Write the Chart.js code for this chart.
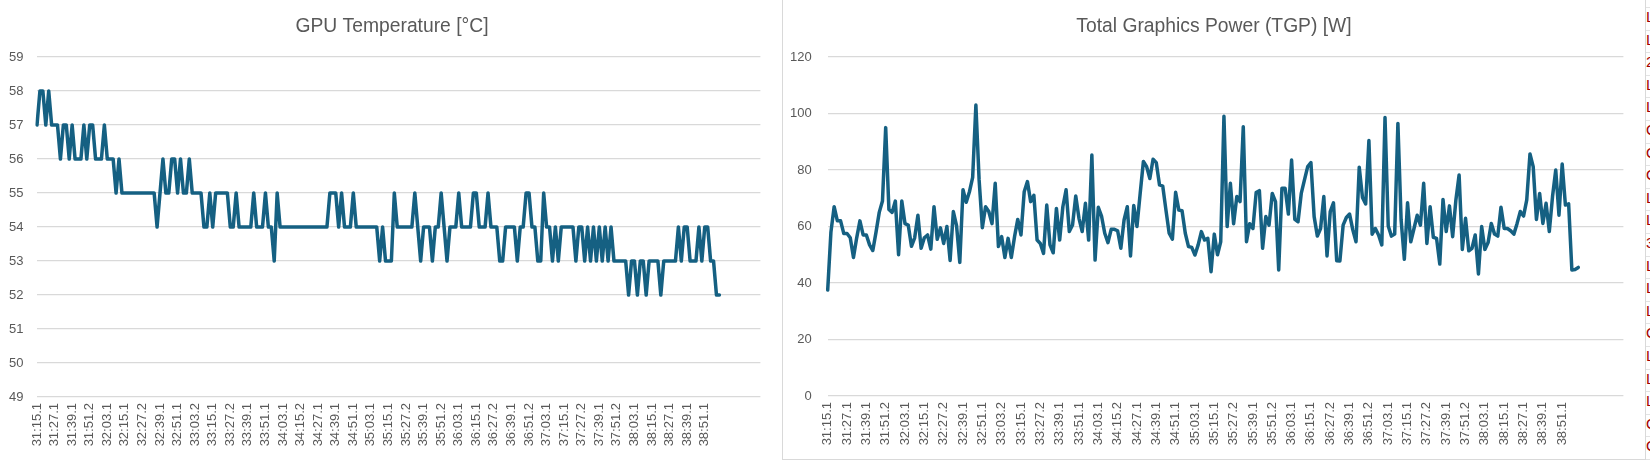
<!DOCTYPE html>
<html>
<head>
<meta charset="utf-8">
<script src="https://cdn.jsdelivr.net/npm/chart.js@4.4.1/dist/chart.umd.min.js"></script>
<style>
  html, body { margin: 0; padding: 0; background: #ffffff; width: 1650px; height: 461px; overflow: hidden; }
  #cLeft { position: absolute; left: 0; top: 0; }
  #cRight { position: absolute; left: 783px; top: 0; }
  .vline { position: absolute; top: 0; width: 1px; background: #d9d9d9; }
  .hline { position: absolute; height: 1px; background: #d9d9d9; }
  #sheet { position: absolute; left: 1646px; top: 0; width: 4px; height: 461px; overflow: hidden; }
  #sheet div { height: 22.6px; line-height: 22.6px; font: 15px 'Liberation Sans', Arial, sans-serif; color: #a40000; border-bottom: 1px solid #e3e3e3; box-sizing: border-box; white-space: nowrap; }
</style>
</head>
<body>
<canvas id="cLeft" width="782" height="461"></canvas>
<canvas id="cRight" width="862" height="461"></canvas>
<div class="vline" style="left:782px;height:460px;"></div>
<div class="vline" style="left:1645px;height:460px;"></div>
<div class="hline" style="left:782px;top:459px;width:864px;"></div>
<div id="sheet">
  <div style="height:8px;line-height:8px;"></div>
  <div>L</div><div>L</div><div>2</div><div>L</div><div>L</div><div>O</div><div>O</div><div>O</div><div>L</div><div>L</div>
  <div>3</div><div>L</div><div>L</div><div>L</div><div>O</div><div>L</div><div>L</div><div>L</div><div>O</div><div>O</div>
</div>
<script>
// ---- data ----
const tickLabels = [
  "31:15.1","31:27.1","31:39.1","31:51.2","32:03.1","32:15.1","32:27.2","32:39.1","32:51.1","33:03.2",
  "33:15.1","33:27.2","33:39.1","33:51.1","34:03.1","34:15.2","34:27.1","34:39.1","34:51.1","35:03.1",
  "35:15.1","35:27.2","35:39.1","35:51.2","36:03.1","36:15.1","36:27.2","36:39.1","36:51.2","37:03.1",
  "37:15.1","37:27.2","37:39.1","37:51.2","38:03.1","38:15.1","38:27.1","38:39.1","38:51.1"
];
const pointsPerLabel = 6;
const categoryCount = 248;

const gpuTemperature = [
  57,58,58,57,58,57,57,57,56,57,
  57,56,57,56,56,56,57,56,57,57,
  56,56,56,57,56,56,56,55,56,55,
  55,55,55,55,55,55,55,55,55,55,
  55,54,55,56,55,55,56,56,55,56,
  55,55,56,55,55,55,55,54,54,55,
  54,55,55,55,55,55,54,54,55,54,
  54,54,54,54,55,54,54,54,55,54,
  54,53,55,54,54,54,54,54,54,54,
  54,54,54,54,54,54,54,54,54,54,
  55,55,55,54,55,54,54,54,55,54,
  54,54,54,54,54,54,54,53,54,53,
  53,53,55,54,54,54,54,54,54,55,
  54,53,54,54,54,53,54,54,55,54,
  53,54,54,54,55,54,54,54,54,55,
  55,54,54,54,55,54,54,54,53,53,
  54,54,54,54,53,54,54,55,55,54,
  54,53,53,55,54,54,53,54,53,54,
  54,54,54,54,53,54,54,53,54,53,
  54,53,54,53,54,53,54,53,53,53,
  53,53,52,53,53,52,53,53,52,53,
  53,53,53,52,53,53,53,53,53,54,
  53,54,54,53,53,53,54,53,54,54,
  53,53,52,52
];

const totalGraphicsPower = [
  37.5,58,67,62,62,57.5,57.5,56,49,56,
  62,57,57,53.5,51.5,58,65,69,95,66,
  65,69,50,69,61,60.5,53,56,64,52.3,
  56,57,52,67,55.5,59.5,54,60,48,65.3,
  60.3,47.3,73,68.6,72.3,77.4,103,76.5,59.6,67,
  65.3,61,75.3,52.9,56.4,49,55.8,49,56.4,62.5,
  57,72.3,75.9,68.8,71,55.2,54,50.5,67.6,53.5,
  50.7,66.4,55.2,67,73,58.2,60.5,70.8,62.9,58.2,
  68.2,55.2,85.3,48.1,66.8,63.7,57.6,54.3,59,59,
  58.5,52.3,62.3,67,49.6,67.4,60,71.7,83,81.2,
  77,83.8,82.6,74.7,74.3,65.8,57.6,55.5,72.1,65.8,
  65.6,57.6,52.9,52.6,49.9,53.5,58.2,55.2,55.8,44,
  57.3,50,54.6,99,60,75.3,61,70.6,68.8,95.3,
  54.6,61,59.3,72,72.7,52.3,63.5,60.5,71.7,68.8,
  44.6,73.5,73.5,64.4,83.5,62.5,61.7,71.7,76.5,81.2,
  82.6,63.5,56.6,59.3,70.6,49.6,65.3,68.4,47.9,47.8,
  60.5,63.2,64.4,58.8,54.6,81,70.3,68,90.4,57.3,
  59.3,57,53.5,98.6,60.2,56.6,57.3,96.5,62.3,48.4,
  68.4,54.6,59.3,64,60.5,75.3,54,67,56.2,55.8,
  46.7,69.6,58.2,67.3,56.4,69.4,78.2,51.9,62.9,51.4,
  52.3,57,43.2,60,51.9,54.3,61.1,57.3,56.6,66.8,
  59.3,59.3,58.5,57.3,61.1,65.3,63.7,69.4,85.7,81.2,
  62.5,71.7,61.1,68.2,58.2,70.6,80,64,82.1,67.6,
  68,44.6,44.8,45.5
];

// category table built from the tick labels (label every 6th sample)
const categories = [];
for (let i = 0; i < categoryCount; i++) {
  const k = i / pointsPerLabel;
  categories.push(Number.isInteger(k) && k < tickLabels.length ? tickLabels[k] : '');
}

const FONT = "'Liberation Sans', Arial, sans-serif";
Chart.defaults.font.family = FONT;
Chart.defaults.color = '#595959';

// chart title drawn centred over the whole chart object (as Excel does)
const objectTitle = {
  id: 'objectTitle',
  afterDraw(chart, args, opts) {
    const ctx = chart.ctx;
    ctx.save();
    ctx.font = 'normal ' + opts.size + 'px ' + FONT;
    ctx.fillStyle = opts.color;
    ctx.textAlign = 'center';
    ctx.textBaseline = 'alphabetic';
    ctx.fillText(opts.text, opts.x, opts.y);
    ctx.restore();
  }
};

function makeChart(id, values, yMin, yMax, yStep, titleText, box) {
  return new Chart(document.getElementById(id), {
    type: 'line',
    data: {
      labels: categories,
      datasets: [{
        data: values,
        borderColor: '#156082',
        borderWidth: 3.5,
        pointRadius: 0,
        tension: 0,
        fill: false,
        borderJoinStyle: 'round',
        borderCapStyle: 'round'
      }]
    },
    plugins: [objectTitle],
    options: {
      responsive: false,
      animation: false,
      events: [],
      layout: { padding: { left: 0, right: box.padRight, top: 57, bottom: 0 } },
      plugins: {
        legend: { display: false },
        tooltip: { enabled: false },
        title: { display: false },
        objectTitle: { text: titleText, x: box.titleX, y: 32.3, size: 19.3, color: '#595959' }
      },
      scales: {
        x: {
          type: 'category',
          offset: false,
          grid: { display: false, drawTicks: false },
          border: { display: false },
          ticks: { autoSkip: false, maxRotation: 90, minRotation: 90, padding: 6, color: '#595959', font: { size: 13 } },
          afterFit: s => { s.height = box.xHeight; }
        },
        y: {
          min: yMin, max: yMax,
          grid: { color: '#d9d9d9', lineWidth: 1.3, drawTicks: false },
          border: { display: false },
          ticks: { stepSize: yStep, padding: box.yPad, color: '#595959', font: { size: 13 } },
          afterFit: s => { s.width = box.yWidth; }
        }
      }
    }
  });
}

makeChart('cLeft', gpuTemperature, 49, 59, 1, 'GPU Temperature [°C]',
  { padRight: 18, yWidth: 37, xHeight: 64, yPad: 13.5, titleX: 392 });
makeChart('cRight', totalGraphicsPower, 0, 120, 20, 'Total Graphics Power (TGP) [W]',
  { padRight: 18, yWidth: 44.7, xHeight: 65, yPad: 16, titleX: 431 });
</script>
</body>
</html>
